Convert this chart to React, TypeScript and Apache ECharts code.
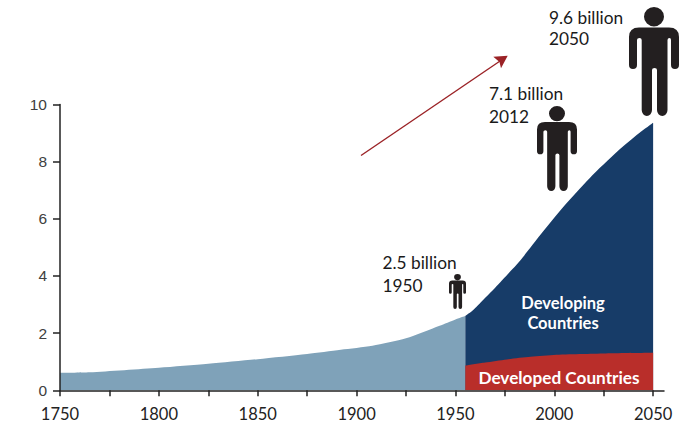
import React, { useEffect, useRef } from "react";
import * as echarts from "echarts";

const xTickValues = [1750, 1775, 1800, 1825, 1850, 1875, 1900, 1925, 1950, 1975, 2000, 2025, 2050];
const xLabelValues = [1750, 1800, 1850, 1900, 1950, 2000, 2050];

const worldYears = [1750, 1765, 1800, 1825, 1850, 1875, 1892, 1908, 1925, 1942, 1950, 1955];
const worldValues = [0.61, 0.63, 0.79, 0.93, 1.09, 1.27, 1.42, 1.56, 1.82, 2.26, 2.48, 2.6];

const developingYears = [1955, 1959, 1964, 1970, 1979, 1983, 1993, 2004, 2018, 2032, 2043, 2050];
const developingValues = [2.6, 2.81, 3.16, 3.58, 4.25, 4.56, 5.44, 6.37, 7.43, 8.36, 9.0, 9.36];

const developedYears = [1955, 1965, 1976, 1988, 2001, 2014, 2026, 2050];
const developedValues = [0.86, 0.97, 1.08, 1.17, 1.24, 1.27, 1.29, 1.31];

const pairs = (xs: number[], ys: number[]) => xs.map((x, i) => [x, ys[i]]);

const PERSON =
  "M10,20.5 H40 Q50,20.5 50,30 V58 A4,4 0 0 1 42,58 V33 Q42,31 40.5,31 Q38.5,31 38.5,33 V103 A5.25,6 0 0 1 28,103 V63 Q28,61 25.5,61 Q23,61 23,63 V103 A5.15,6 0 0 1 12.7,103 V33 Q12.7,31 10.5,31 Q8,31 8,33 V58 A4,4 0 0 1 0,58 V30 Q0,20.5 10,20.5 Z " +
  "M35,9.7 A10,9.7 0 1 1 15,9.7 A10,9.7 0 1 1 35,9.7 Z";
echarts.graphic.registerShape("person", echarts.graphic.extendPath(PERSON, {}) as any);

const LATO = "Lato, sans-serif";

const area = (name: string, data: number[][], color: string, z: number) => ({
  type: "line" as const,
  name,
  data,
  z,
  symbol: "none",
  smooth: 0.25,
  lineStyle: { width: 0 },
  areaStyle: { color, opacity: 1 },
  silent: true,
});

const note = (x: number, y: number, text: string) => ({
  type: "text",
  x,
  y,
  silent: true,
  style: { text, fill: "#1a1a1a", font: `17.3px ${LATO}`, textAlign: "left", textVerticalAlign: "middle" },
});

const inside = (x: number, y: number, text: string, size: number) => ({
  type: "text",
  x,
  y,
  z: 20,
  silent: true,
  style: {
    text,
    fill: "#ffffff",
    font: `bold ${size}px ${LATO}`,
    lineHeight: 20,
    textAlign: "center",
    textVerticalAlign: "middle",
  },
});

const person = (x: number, y: number, sx: number, sy: number) => ({
  type: "person",
  x,
  y,
  scaleX: sx,
  scaleY: sy,
  silent: true,
  style: { fill: "#231f20" },
});

export default function App() {
  const ref = useRef<HTMLDivElement>(null);
  useEffect(() => {
    if (!ref.current) return;
    const chart = echarts.init(ref.current, undefined, { renderer: "svg" });
    chart.setOption({
      animation: false,
      grid: { left: 60, right: 22, top: 104.5, bottom: 35.7, containLabel: false },
      xAxis: {
        type: "value",
        min: 1750,
        max: 2055.5,
        interval: 25,
        splitLine: { show: false },
        z: 6,
        axisLine: { show: true, onZero: false, lineStyle: { color: "#222", width: 1.5 } },
        axisTick: {
          show: true,
          length: 6,
          customValues: xTickValues,
          lineStyle: { color: "#222", width: 1.5 },
        },
        axisLabel: {
          customValues: xLabelValues,
          color: "#222",
          fontFamily: LATO,
          fontSize: 16.5,
          margin: 15,
          formatter: (v: number) => String(v),
        },
      },
      yAxis: {
        type: "value",
        min: 0,
        max: 10,
        interval: 2,
        splitLine: { show: false },
        z: 6,
        axisLine: { show: true, lineStyle: { color: "#222", width: 1.5 } },
        axisTick: { show: true, length: 7, lineStyle: { color: "#222", width: 1.5 } },
        axisLabel: {
          color: "#404040",
          fontFamily: "Liberation Sans, Arial, sans-serif",
          fontSize: 15.5,
          margin: 13,
        },
      },
      series: [
        area("World", pairs(worldYears, worldValues), "#7fa2b9", 2),
        area("Developing Countries", pairs(developingYears, developingValues), "#173c68", 3),
        area("Developed Countries", pairs(developedYears, developedValues), "#b92e2a", 4),
      ],
      graphic: [
        note(549, 17, "9.6 billion"),
        note(549, 38.5, "2050"),
        note(489, 93, "7.1 billion"),
        note(489, 116, "2012"),
        note(382.5, 262.5, "2.5 billion"),
        note(382.5, 285, "1950"),
        inside(563, 313, "Developing\nCountries", 16.5),
        inside(559, 377, "Developed Countries", 17.2),
        person(629, 7, 1, 1),
        person(537, 106, 0.8, 0.78),
        person(449, 274, 0.34, 0.32),
        {
          type: "line",
          silent: true,
          shape: { x1: 361, y1: 155.5, x2: 503, y2: 59 },
          style: { stroke: "#9b2226", lineWidth: 1.4 },
        },
        {
          type: "polygon",
          silent: true,
          shape: { points: [[507.7, 55.7], [493.3, 56.7], [499.5, 62], [501, 68.3]] },
          style: { fill: "#9b2226" },
        },
      ],
    });
    return () => chart.dispose();
  }, []);
  return <div ref={ref} style={{ position: "absolute", left: 0, top: 0, width: 686, height: 426 }} />;
}
